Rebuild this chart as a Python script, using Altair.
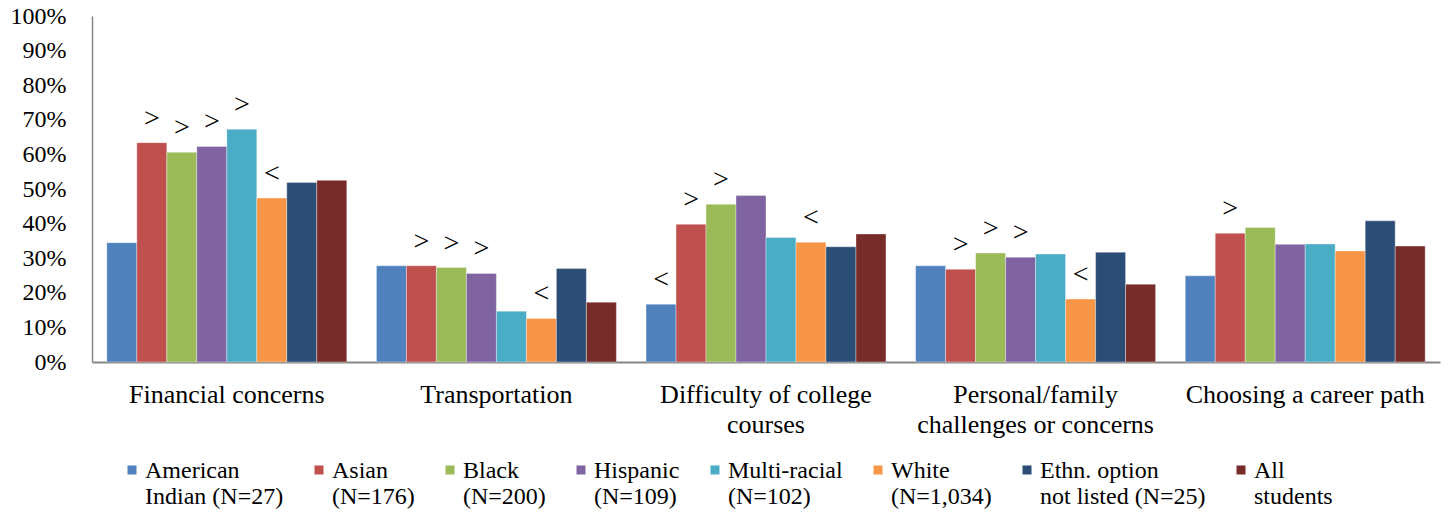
import altair as alt
import pandas as pd

# Reasons students gave for difficulty, by ethnicity (percent of respondents)
categories = [
    "Financial concerns",
    "Transportation",
    "Difficulty of college\ncourses",
    "Personal/family\nchallenges or concerns",
    "Choosing a career path",
]

groups = [
    "American\nIndian (N=27)",
    "Asian\n(N=176)",
    "Black\n(N=200)",
    "Hispanic\n(N=109)",
    "Multi-racial\n(N=102)",
    "White\n(N=1,034)",
    "Ethn. option\nnot listed (N=25)",
    "All\nstudents",
]

colors = ["#4F81BD", "#C0504D", "#9BBB59", "#8064A2",
          "#4BACC6", "#F79646", "#2C4D75", "#772C2A"]

american_indian = [34.5, 27.8, 16.7, 27.8, 24.9]
asian = [63.4, 27.8, 39.8, 26.8, 37.2]
black = [60.6, 27.3, 45.6, 31.5, 38.9]
hispanic = [62.3, 25.6, 48.1, 30.3, 34.0]
multi_racial = [67.3, 14.7, 36.0, 31.2, 34.1]
white = [47.4, 12.6, 34.6, 18.2, 32.1]
not_listed = [51.9, 27.0, 33.3, 31.7, 40.8]
all_students = [52.5, 17.3, 37.0, 22.5, 33.5]

# Significance markers versus all students (">" higher, "<" lower)
sig_american_indian = ["", "", "<", "", ""]
sig_asian = [">", ">", ">", ">", ">"]
sig_black = [">", ">", ">", ">", ""]
sig_hispanic = [">", ">", "", ">", ""]
sig_multi_racial = [">", "", "", "", ""]
sig_white = ["<", "<", "<", "<", ""]
sig_not_listed = ["", "", "", "", ""]
sig_all_students = ["", "", "", "", ""]

series = [american_indian, asian, black, hispanic,
          multi_racial, white, not_listed, all_students]
sigs = [sig_american_indian, sig_asian, sig_black, sig_hispanic,
        sig_multi_racial, sig_white, sig_not_listed, sig_all_students]

rows = []
for g, vals, marks in zip(groups, series, sigs):
    for c, v, m in zip(categories, vals, marks):
        rows.append({"category": c, "group": g, "value": v / 100, "sig": m})
df = pd.DataFrame(rows)

FONT = "Liberation Serif"

base = alt.Chart(df).encode(
    x=alt.X(
        "category:N",
        sort=categories,
        scale=alt.Scale(paddingInner=0.11, paddingOuter=0.055),
        axis=alt.Axis(
            title=None,
            labelAngle=0,
            ticks=False,
            labelFontSize=26,
            labelLineHeight=30,
            labelPadding=19,
            labelLimit=0,
            labelColor="black",
            labelFont=FONT,
            domainColor="#868686",
            domainWidth=2,
            labelExpr="split(datum.value, '\\n')",
        ),
    ),
    xOffset=alt.XOffset("group:N", sort=groups,
                        scale=alt.Scale(paddingInner=0, paddingOuter=0)),
    y=alt.Y(
        "value:Q",
        scale=alt.Scale(domain=[0, 1], nice=False),
        axis=alt.Axis(
            title=None,
            format=".0%",
            values=[0, 0.1, 0.2, 0.3, 0.4, 0.5, 0.6, 0.7, 0.8, 0.9, 1.0],
            grid=False,
            ticks=False,
            labelOverlap=False,
            labelFontSize=24,
            labelPadding=26,
            labelColor="black",
            labelFont=FONT,
            domainColor="#868686",
            domainWidth=1.5,
        ),
    ),
)

bars = base.mark_bar(
    stroke="white", strokeWidth=1, strokeOpacity=0.35
).encode(
    color=alt.Color(
        "group:N",
        sort=groups,
        scale=alt.Scale(domain=groups, range=colors),
        legend=alt.Legend(
            title=None,
            orient="none",
            legendX=28,
            legendY=431,
            direction="horizontal",
            columns=8,
            columnPadding=23,
            padding=0,
            symbolType="M-1,1.44L1,1.44L1,3.44L-1,3.44Z",
            symbolSize=81,
            symbolStrokeWidth=0,
            labelFontSize=24,
            labelBaseline="top",
            labelOffset=1,
            labelLimit=0,
            labelFont=FONT,
            labelColor="black",
            labelExpr="split(datum.label, '\\n')",
        ),
    ),
)

markers = base.mark_text(
    dy=-24, fontSize=28, font=FONT, baseline="middle", color="black"
).encode(text="sig:N")

chart = alt.layer(bars, markers).properties(
    width=1348,
    height=346,
    autosize=alt.AutoSizeParams(type="none"),
    padding={"left": 92, "top": 16, "right": 8, "bottom": 150},
).configure_view(stroke=None)

chart.save("out.html", embed_options={"renderer": "svg", "actions": False})
